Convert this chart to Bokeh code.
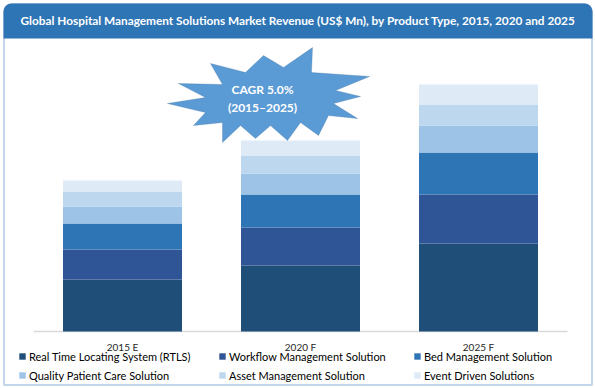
from bokeh.plotting import figure
from bokeh.models import (BoxAnnotation, PolyAnnotation, Legend, LegendItem, Range1d,
                          Label, ColumnDataSource)
from bokeh.embed import file_html
from bokeh.resources import INLINE

# ---- data (US$ Mn, arbitrary scale) ----
categories = ["2015 E", "2020 F", "2025 F"]
series = ["Real Time Locating System (RTLS)", "Workflow Management Solution",
          "Bed Management Solution", "Quality Patient Care Solution",
          "Asset Management Solution", "Event Driven Solutions"]
rtls = [52, 66, 88]
workflow = [30, 38, 49]
bed = [26, 33, 42]
quality = [17, 21, 27]
asset = [15, 18, 21]
event = [11, 15, 20]
colors = ["#1F4E79", "#2F5597", "#2E75B6", "#9DC3E6", "#BDD7EE", "#DEEBF7"]
title_text = "Global Hospital Management Solutions Market Revenue (US$ Mn), by Product Type, 2015, 2020 and 2025"
cagr_lines = ["CAGR 5.0%", "(2015\u20132025)"]

W, H = 595, 388
PX = 178.0          # pixels per category
X0 = 122.0          # pixel position of first category
BASE = 331.0        # pixel row of the baseline

def X(fx):
    return (fx - X0) / PX

def Y(fy):
    return BASE - fy

p = figure(width=W, height=H, output_backend="svg", toolbar_location=None,
           x_range=Range1d(X(0), X(W)), y_range=Range1d(Y(H), Y(0)),
           x_axis_location=None, y_axis_location=None, min_border=0,
           border_fill_color="white", background_fill_color="white")
p.grid.visible = False
p.outline_line_color = None

xs = list(range(len(categories)))
source = ColumnDataSource(dict(x=xs, cat=categories, rtls=rtls, workflow=workflow,
                               bed=bed, quality=quality, asset=asset, event=event))
keys = ["rtls", "workflow", "bed", "quality", "asset", "event"]

# baseline (category axis line)
p.segment(x0=[X(33)], y0=[0], x1=[X(567)], y1=[0], line_color="#D9D9D9", line_width=1.5)

renderers = p.vbar_stack(keys, x="x", width=119 / PX, source=source, color=colors,
                         line_color=None)

# category labels
for i, cat in enumerate(categories):
    p.add_layout(Label(x=i, y=Y(340), text=cat, text_align="center",
                       text_baseline="top", text_font="Lato", text_font_size="10px",
                       text_color="#262626"))

# frame and title bar
p.add_layout(BoxAnnotation(left=X(3), right=X(592), top=Y(3), bottom=Y(38),
                           fill_color="#2E75B6", fill_alpha=1, line_color=None,
                           border_radius=(8, 8, 0, 0)))
p.add_layout(BoxAnnotation(left=X(3.5), right=X(591.5), top=Y(3.5), bottom=Y(384.5),
                           fill_alpha=0, line_color="#3A78B5", line_width=2,
                           border_radius=(8, 8, 0, 0)))
p.add_layout(Label(x=X(297.5), y=Y(20), text=title_text, text_align="center",
                   text_baseline="middle", text_color="white", text_font="Lato",
                   text_font_style="bold", text_font_size="11.8px"))

# CAGR starburst (page pixel outline)
star_page = [(167, 103), (205, 97), (178, 83), (222, 84), (210, 63), (245, 72),
             (263, 55), (283, 67), (312, 47), (311, 72), (369, 76), (335, 90),
             (360, 96), (333, 103), (357, 118), (328, 115), (318, 135), (300, 122),
             (287, 140), (270, 125), (255, 138), (240, 125), (222, 142), (222, 122),
             (193, 125), (205, 112)]
p.add_layout(PolyAnnotation(xs=[X(a) for a, b in star_page],
                            ys=[Y(b) for a, b in star_page],
                            fill_color="#5B9BD5", fill_alpha=1,
                            line_color="#41719C", line_width=1))
for i, t in enumerate(cagr_lines):
    p.add_layout(Label(x=X(262), y=Y(89 + 18 * i), text=t, text_align="center",
                       text_baseline="middle", text_color="white",
                       text_font="Lato", text_font_style="bold",
                       text_font_size="12px"))

# legends: three columns of two rows
col_x = [18, 218, 413]
for c in range(3):
    items = [LegendItem(label=series[r * 3 + c], renderers=[renderers[r * 3 + c]])
             for r in range(2)]
    lg = Legend(items=items, location=(col_x[c], 5), orientation="vertical",
                glyph_width=8, glyph_height=8, label_height=16, spacing=3,
                label_standoff=3, padding=0, margin=0, border_line_color=None,
                background_fill_alpha=0, label_text_font="Lato",
                label_text_font_size="11px", label_text_color="#000000")
    p.add_layout(lg)

open("out.html", "w").write(file_html(p, INLINE))
